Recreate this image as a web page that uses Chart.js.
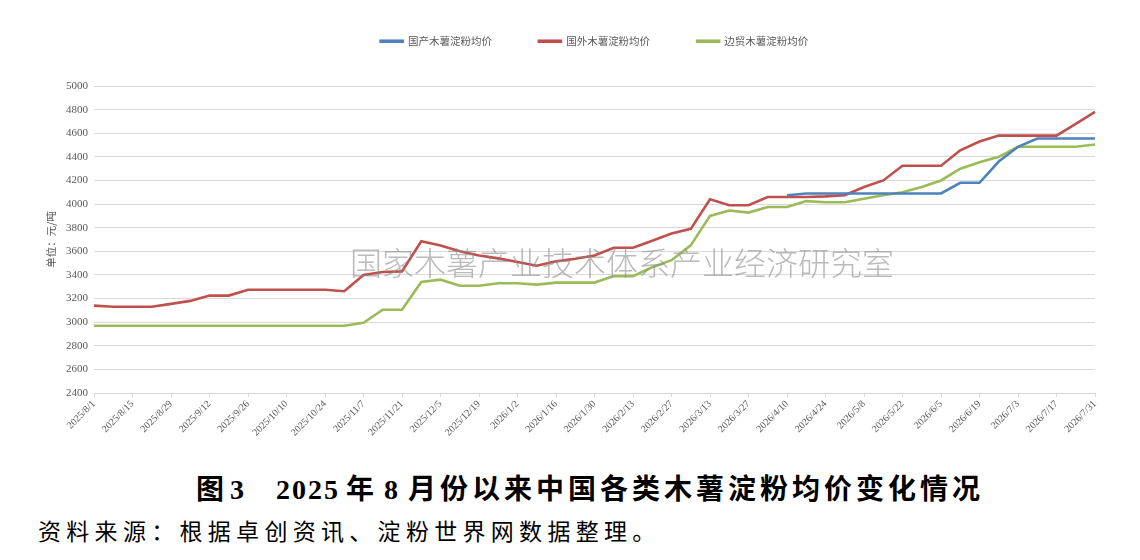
<!DOCTYPE html>
<html lang="zh">
<head>
    <meta charset="UTF-8">
    <title>木薯淀粉均价变化</title>
    <script src="https://cdn.jsdelivr.net/npm/chart.js@4.4.1/dist/chart.umd.min.js"></script>
    <style>
        body {
            margin: 0;
            padding: 0;
            background: #fff;
            width: 1140px;
            height: 560px;
            overflow: hidden;
            position: relative;
            font-family: 'Liberation Serif', 'Noto Sans CJK SC', serif;
        }
        .chart-box {
            position: absolute;
            left: 0;
            top: -11px;
            width: 1140px;
            height: 470px;
        }
        .watermark {
            position: absolute;
            left: 350px;
            top: 241px;
            font-family: 'Noto Sans CJK SC', sans-serif;
            font-weight: 300;
            font-size: 32px;
            line-height: 40px;
            color: rgba(140, 140, 140, 0.6);
            white-space: nowrap;
            pointer-events: none;
        }
        .caption {
            position: absolute;
            left: 196px;
            top: 472px;
            font-size: 28px;
            line-height: 36px;
            font-weight: bold;
            color: #000;
            white-space: nowrap;
            letter-spacing: 4px;
        }
        .caption .num {
            letter-spacing: 2px;
        }
        .source {
            position: absolute;
            left: 38px;
            top: 514px;
            font-family: 'Noto Sans CJK SC', sans-serif;
            font-size: 23px;
            line-height: 32px;
            color: #000;
            white-space: nowrap;
            letter-spacing: 5.3px;
        }
    </style>
</head>
<body>
    <div class="chart-box">
        <canvas id="priceChart"></canvas>
    </div>
    <div class="watermark">国家木薯产业技术体系产业经济研究室</div>
    <div class="caption">图<span class="num" style="margin-left:2px">3</span><span class="num" style="margin-left:30px">2025</span><span style="margin-left:6px">年</span><span class="num" style="margin-left:6px">8</span><span style="margin-left:8px">月份以来中国各类木薯淀粉均价变化情况</span></div>
    <div class="source">资料来源：根据卓创资讯、淀粉世界网数据整理。</div>

    <script>
        // weekly dates, 2025/8/1 .. 2026/7/31
        const weeks = [
            '2025/8/1', '2025/8/8', '2025/8/15', '2025/8/22', '2025/8/29', '2025/9/5', '2025/9/12',
            '2025/9/19', '2025/9/26', '2025/10/3', '2025/10/10', '2025/10/17', '2025/10/24', '2025/10/31',
            '2025/11/7', '2025/11/14', '2025/11/21', '2025/11/28', '2025/12/5', '2025/12/12', '2025/12/19',
            '2025/12/26', '2026/1/2', '2026/1/9', '2026/1/16', '2026/1/23', '2026/1/30', '2026/2/6',
            '2026/2/13', '2026/2/20', '2026/2/27', '2026/3/6', '2026/3/13', '2026/3/20', '2026/3/27',
            '2026/4/3', '2026/4/10', '2026/4/17', '2026/4/24', '2026/5/1', '2026/5/8', '2026/5/15',
            '2026/5/22', '2026/5/29', '2026/6/5', '2026/6/12', '2026/6/19', '2026/6/26', '2026/7/3',
            '2026/7/10', '2026/7/17', '2026/7/24', '2026/7/31'
        ];

        // 国产 (starts in April)
        const domestic = [
            null, null, null, null, null, null, null, null, null, null,
            null, null, null, null, null, null, null, null, null, null,
            null, null, null, null, null, null, null, null, null, null,
            null, null, null, null, null, null, 4075, 4090, 4090, 4090,
            4090, 4090, 4090, 4090, 4090, 4180, 4180, 4360, 4485, 4555,
            4555, 4555, 4555
        ];

        // 国外
        const imported = [
            3140, 3130, 3130, 3130, 3155, 3180, 3225, 3225, 3275, 3275,
            3275, 3275, 3275, 3262, 3400, 3425, 3430, 3685, 3650, 3600,
            3565, 3540, 3510, 3478, 3515, 3537, 3565, 3630, 3630, 3690,
            3750, 3790, 4040, 3990, 3990, 4060, 4060, 4060, 4065, 4075,
            4145, 4200, 4325, 4325, 4325, 4455, 4530, 4580, 4580, 4580,
            4580, 4680, 4780
        ];

        // 边贸
        const border = [
            2970, 2970, 2970, 2970, 2970, 2970, 2970, 2970, 2970, 2970,
            2970, 2970, 2970, 2970, 2995, 3105, 3105, 3340, 3360, 3308,
            3308, 3330, 3330, 3318, 3335, 3335, 3335, 3390, 3390, 3465,
            3525, 3650, 3900, 3945, 3928, 3975, 3975, 4025, 4015, 4015,
            4045, 4075, 4100, 4145, 4200, 4300, 4355, 4400, 4485, 4485,
            4485, 4485, 4505
        ];

        const seriesNames = ['国产木薯淀粉均价', '国外木薯淀粉均价', '边贸木薯淀粉均价'];
        const seriesColors = ['#4f81bd', '#c0504d', '#9bbb59'];

        const tickFont = { family: "'Liberation Serif', serif", size: 10 };
        const gridGray = '#d9d9d9';

        function makeSet(i, values) {
            return {
                label: seriesNames[i],
                data: values,
                borderColor: seriesColors[i],
                backgroundColor: seriesColors[i],
                borderWidth: 2.6,
                pointRadius: 0,
                pointHoverRadius: 0,
                tension: 0,
                spanGaps: false
            };
        }

        // fixed legend block height so the plot starts where the original does
        const legendHeight = {
            id: 'legendHeight',
            beforeInit(chart) {
                const origFit = chart.legend.fit;
                chart.legend.fit = function () {
                    origFit.bind(chart.legend)();
                    this.height = 97;
                };
            }
        };

        new Chart(document.getElementById('priceChart'), {
            type: 'line',
            data: {
                labels: weeks,
                datasets: [makeSet(0, domestic), makeSet(1, imported), makeSet(2, border)]
            },
            options: {
                responsive: true,
                maintainAspectRatio: false,
                animation: false,
                layout: { padding: { left: 43, right: 45, top: 0, bottom: 0 } },
                plugins: {
                    tooltip: { enabled: false },
                    legend: {
                        position: 'top',
                        align: 'center',
                        fullSize: false,
                        labels: {
                            boxWidth: 22,
                            boxHeight: 1,
                            padding: 47,
                            color: '#595959',
                            font: { family: "'Noto Sans CJK SC', sans-serif", size: 10.5 }
                        }
                    }
                },
                scales: {
                    x: {
                        afterFit(scale) { scale.height = 66; },
                        grid: {
                            drawOnChartArea: false,
                            drawTicks: true,
                            tickLength: 4,
                            color: ctx => (ctx.index % 2 === 0 ? gridGray : 'rgba(0,0,0,0)')
                        },
                        border: { display: true, color: gridGray },
                        ticks: {
                            autoSkip: false,
                            minRotation: 45,
                            maxRotation: 45,
                            padding: 1,
                            color: '#595959',
                            font: tickFont,
                            callback(value, index) {
                                return index % 2 === 0 ? weeks[index] : '';
                            }
                        }
                    },
                    y: {
                        min: 2400,
                        max: 5000,
                        afterFit(scale) { scale.width = 51; },
                        grid: { color: gridGray, drawTicks: false },
                        border: { display: false },
                        ticks: {
                            stepSize: 200,
                            padding: 6,
                            color: '#595959',
                            font: { family: "'Liberation Serif', serif", size: 11 },
                            callback: value => String(value)
                        },
                        title: {
                            display: true,
                            text: '单位：元/吨',
                            color: '#595959',
                            padding: { top: 2, bottom: 0 },
                            font: { family: "'Noto Sans CJK SC', sans-serif", size: 10.5 }
                        }
                    }
                }
            },
            plugins: [legendHeight]
        });
    </script>
</body>
</html>
